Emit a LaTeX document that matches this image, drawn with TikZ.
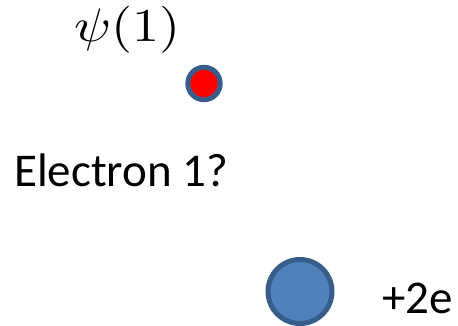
\documentclass[tikz,border=0pt]{standalone}
\usepackage{fontspec}
\setmainfont{Carlito}
\definecolor{pptblue}{HTML}{4F81BD}
\definecolor{pptedge}{HTML}{385D8A}
\begin{document}
\begin{tikzpicture}[x=1pt,y=1pt,
  lbl/.style={anchor=base west,inner sep=0pt,font=\fontsize{47}{56}\selectfont},
  electron/.style={circle,draw=pptedge,line width=5pt,fill=red,minimum size=32.4pt,inner sep=0pt},
  nucleus/.style={circle,draw=pptedge,line width=5pt,fill=pptblue,minimum size=64pt,inner sep=0pt}]
\useasboundingbox (0,0) rectangle (458,326);
\node[anchor=base west,inner sep=0pt,xscale=5.4,yscale=4.7] (psi) at (73,284.8) {$\psi(1)$};
\node[electron] (e1) at (204,242.5) {};
\node[lbl] (lab) at (14,139) {Electron 1?};
\node[nucleus] (nuc) at (300,34.5) {};
\node[lbl] (charge) at (382,12) {+2e};
\end{tikzpicture}
\end{document}
